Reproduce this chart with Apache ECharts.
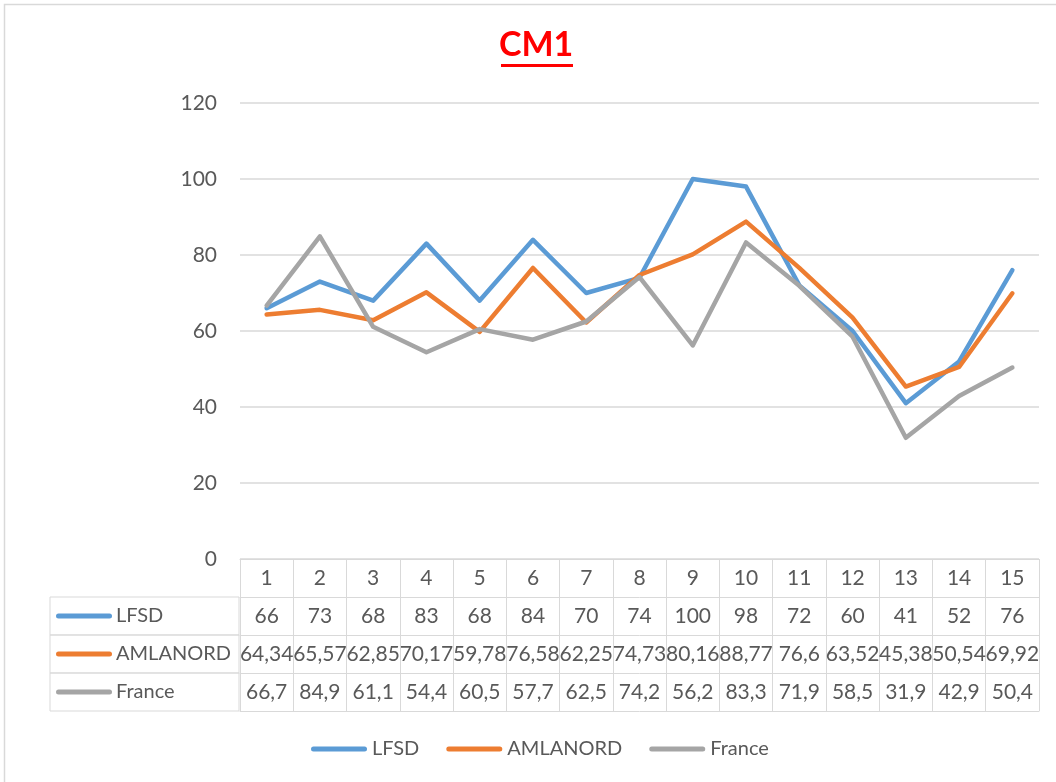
<!DOCTYPE html>
<html>
<head>
<meta charset="utf-8">
<script src="https://cdn.jsdelivr.net/npm/echarts@6/dist/echarts.min.js"></script>
<style>
html,body{margin:0;padding:0;background:#fff;}
#chart{width:1056px;height:782px;}
</style>
</head>
<body>
<div id="chart"></div>
<script>
// ---- data ----
var categories = ['1','2','3','4','5','6','7','8','9','10','11','12','13','14','15'];
var seriesNames = ['LFSD', 'AMLANORD', 'France'];
var lfsd = [66, 73, 68, 83, 68, 84, 70, 74, 100, 98, 72, 60, 41, 52, 76];
var amlanord = [64.34, 65.57, 62.85, 70.17, 59.78, 76.58, 62.25, 74.73, 80.16, 88.77, 76.6, 63.52, 45.38, 50.54, 69.92];
var france = [66.7, 84.9, 61.1, 54.4, 60.5, 57.7, 62.5, 74.2, 56.2, 83.3, 71.9, 58.5, 31.9, 42.9, 50.4];
var yTicks = [0, 20, 40, 60, 80, 100, 120];

// ---- styling ----
var colors = ['#5B9BD5', '#ED7D31', '#A5A5A5'];
var FONT = 'Lato';
var TXT = '#595959';
var LINE = '#D9D9D9';
var ROW = 38;
var gridLeft = 240, gridRight = 17, gridTop = 103, gridBottom = 223;
var tableLeft = 50;

function fmt(v) { return String(v).replace('.', ','); }

var allValues = [lfsd, amlanord, france];

var xAxes = [{
  type: 'category',
  data: categories,
  position: 'bottom',
  boundaryGap: true,
  axisLine: { show: true, lineStyle: { color: LINE, width: 1 } },
  axisTick: { show: true, interval: 0, length: ROW, lineStyle: { color: LINE } },
  axisLabel: { interval: 0, margin: ROW / 2, verticalAlign: 'middle', color: TXT, fontSize: 21, fontFamily: FONT }
}];

var boxW = gridLeft - tableLeft - 1;
allValues.forEach(function (vals, i) {
  var rich = {
    s: { width: 6, height: 5, align: 'left' },
    k: { width: 56, height: 5, backgroundColor: colors[i], borderRadius: 3, align: 'left' },
    t: { color: TXT, fontSize: 20, fontFamily: FONT, padding: [0, 0, 0, 4], width: boxW - 62 - 4, lineHeight: ROW, align: 'left' }
  };
  xAxes.push({
    type: 'category',
    data: vals.map(fmt),
    position: 'bottom',
    offset: ROW * (i + 1),
    boundaryGap: true,
    name: '{s|}{k|}{t|' + seriesNames[i] + '}',
    nameLocation: 'start',
    nameGap: gridLeft - tableLeft,
    nameMoveOverlap: false,
    nameTextStyle: {
      align: 'left', verticalAlign: 'top',
      borderColor: LINE, borderWidth: 1,
      padding: 0,
      rich: rich
    },
    axisLine: { show: true, lineStyle: { color: LINE, width: 1 } },
    axisTick: { show: true, interval: 0, length: ROW, lineStyle: { color: LINE } },
    axisLabel: { interval: 0, margin: ROW / 2, verticalAlign: 'middle', color: TXT, fontSize: 21, fontFamily: FONT },
    silent: true
  });
});

// bottom border of table
xAxes.push({
  type: 'category',
  data: categories.map(function () { return ''; }),
  position: 'bottom',
  offset: ROW * 4,
  axisLine: { show: true, lineStyle: { color: LINE, width: 1 } },
  axisTick: { show: false },
  axisLabel: { show: false }
});

var seriesData = [lfsd, amlanord, france];
var series = seriesData.map(function (d, i) {
  return {
    name: seriesNames[i],
    type: 'line',
    data: d,
    xAxisIndex: 0,
    yAxisIndex: 0,
    symbol: 'none',
    showSymbol: false,
    lineStyle: { color: colors[i], width: 4.5, join: 'round', cap: 'round' },
    itemStyle: { color: colors[i] },
    animation: false
  };
});

var chart = echarts.init(document.getElementById('chart'));
chart.setOption({
  backgroundColor: '#fff',
  animation: false,
  title: {
    text: 'CM1',
    left: 499,
    top: 28,
    padding: 0,
    textStyle: { color: '#FF0000', fontSize: 34, fontWeight: 'bold', fontFamily: FONT }
  },
  legend: {
    data: seriesNames,
    left: 306,
    top: 734,
    itemWidth: 56,
    itemHeight: 5,
    itemGap: 27,
    icon: 'path://M2.5,0 L53.5,0 A2.5,2.5 0 0 1 53.5,5 L2.5,5 A2.5,2.5 0 0 1 2.5,0 Z',
    textStyle: { color: TXT, fontSize: 20, fontFamily: FONT }
  },
  grid: { left: gridLeft, right: gridRight, top: gridTop, bottom: gridBottom, containLabel: false },
  xAxis: xAxes,
  yAxis: {
    type: 'value',
    min: yTicks[0],
    max: yTicks[yTicks.length - 1],
    interval: yTicks[1] - yTicks[0],
    axisLine: { show: false },
    axisTick: { show: false },
    splitLine: { show: true, lineStyle: { color: LINE, width: 1.5 } },
    axisLabel: { color: TXT, fontSize: 21, fontFamily: FONT, margin: 23 }
  },
  graphic: [
    { type: 'rect', silent: true, shape: { x: 4.5, y: 4.5, width: 1200, height: 1000 },
      style: { fill: 'none', stroke: LINE, lineWidth: 1.5 } },
    { type: 'rect', silent: true, shape: { x: 501, y: 64, width: 72, height: 3 },
      style: { fill: '#FF0000' } }
  ],
  series: series
});
</script>
</body>
</html>
